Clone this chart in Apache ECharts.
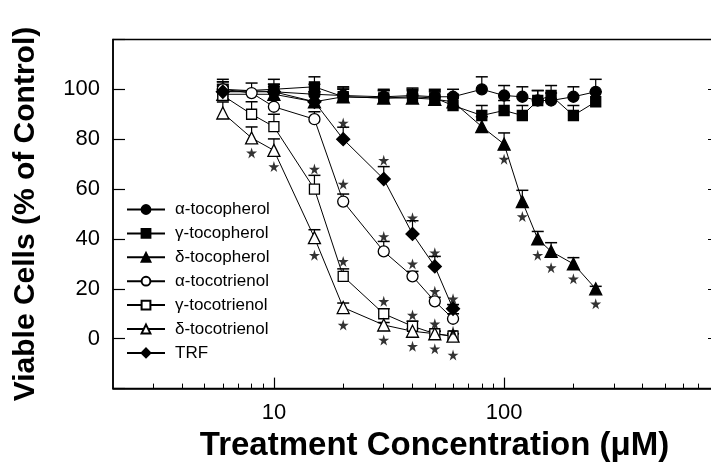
<!DOCTYPE html>
<html>
<head>
<meta charset="utf-8">
<script src="https://cdn.jsdelivr.net/npm/echarts@6/dist/echarts.min.js"></script>
<style>
html, body { margin: 0; padding: 0; background: #fff; }
#chart { width: 711px; height: 467px; }
</style>
</head>
<body>
<div id="chart"></div>
<script>
// concentrations (uM)
var tocoConc = [6, 10, 15, 20, 30, 40, 50, 60, 80, 100, 120, 140, 160, 200, 250];
var t3Conc = [6, 8, 10, 15, 20, 30, 40, 50, 60];
var trfConc = [6, 10, 15, 20, 30, 40, 50, 60];

// viable cells (% of control) and upper error
var alphaToco = [100, 99, 98, 97.5, 97, 97.5, 97, 97, 100, 97.5, 97, 95.5, 95.5, 97, 99];
var alphaTocoErr = [4, 3, 4, 3, 3, 3, 3, 3, 5, 4, 4, 4, 3, 4, 5];
var gammaToco = [99, 100, 101, 97, 96.5, 97, 96.5, 93.5, 89.5, 91.5, 89.5, 95.5, 97.5, 89.5, 95];
var gammaTocoErr = [4, 4, 4, 4, 3, 3, 3, 3, 4, 4, 4, 4, 4, 4, 4];
var deltaToco = [98, 98, 95, 97, 96.5, 96.5, 96, 95, 85, 78, 55, 40, 35, 30, 20];
var deltaTocoErr = [3, 3, 4, 3, 3, 3, 3, 3, 4, 4.5, 4.5, 3, 3.5, 2.5, 1];
var alphaT3 = [100, 98.5, 93, 88, 55, 35, 25, 15, 8];
var alphaT3Err = [3, 4, 3, 3, 3, 4, 2, 1.6, 2];
var gammaT3 = [97.5, 90, 85, 60, 25, 10, 5, 2, 1];
var gammaT3Err = [4, 5, 5, 5.5, 3, 2, 2, 1, 1];
var deltaT3 = [90.5, 80.5, 75.5, 40.5, 12.5, 5.5, 3, 2, 1];
var deltaT3Err = [4.4, 4.4, 4.6, 3.2, 1.8, 1, 1, 1, 1];
var trf = [99, 99, 95, 80, 64, 42, 29, 12];
var trfErr = [3, 3, 4, 4.8, 5, 5.3, 4, 1.7];

// significance stars [conc, position]
var stars = [
  [8, 74.5], [10, 69], [15, 33.5], [20, 5.5], [30, -0.5], [40, -3], [50, -4], [60, -6.5],
  [15, 68], [20, 31], [30, 15], [40, 9.5], [50, 6], [60, 3],
  [20, 62], [30, 41], [40, 30], [50, 19], [60, 13],
  [20, 86.5], [30, 71.5], [40, 48.5], [50, 34.5], [60, 16],
  [100, 72], [120, 49], [140, 33.5], [160, 28.5], [200, 24], [250, 14]
];

var majorTicks = [10, 100];
var minorTicks = [3, 4, 5, 6, 7, 8, 9, 20, 30, 40, 50, 60, 70, 80, 90, 200, 300, 400, 500, 600, 700, 800];

var font = "'Liberation Sans', Arial, sans-serif";
var starPath = 'path://M50,0 L61,35 L98,35 L68,57 L79,91 L50,70 L21,91 L32,57 L2,35 L39,35 Z';

function pairs(xs, ys) {
  return xs.map(function (x, i) { return [x, ys[i]]; });
}
function triples(xs, ys, es) {
  return xs.map(function (x, i) { return [x, ys[i], es[i]]; });
}

function lineSeries(name, xs, ys, symbol, size, filled) {
  return {
    name: name,
    type: 'line',
    data: pairs(xs, ys),
    symbol: symbol,
    symbolSize: size,
    showAllSymbol: true,
    z: 3,
    lineStyle: { color: '#000', width: 1 },
    itemStyle: {
      color: filled ? '#000' : '#fff',
      borderColor: '#000',
      borderWidth: 1.3
    }
  };
}

function errRender(params, api) {
  var x = api.value(0), y = api.value(1), e = api.value(2);
  var p0 = api.coord([x, y]);
  var p1 = api.coord([x, y + e]);
  return {
    type: 'group',
    children: [
      { type: 'line', shape: { x1: p0[0], y1: p0[1], x2: p1[0], y2: p1[1] }, style: { stroke: '#000', lineWidth: 1.2 } },
      { type: 'line', shape: { x1: p1[0] - 6, y1: p1[1], x2: p1[0] + 6, y2: p1[1] }, style: { stroke: '#000', lineWidth: 1.5 } }
    ]
  };
}

function errSeries(xs, ys, es) {
  return { type: 'custom', renderItem: errRender, data: triples(xs, ys, es), z: 1, silent: true };
}

var names = ['α-tocopherol', 'γ-tocopherol', 'δ-tocopherol', 'α-tocotrienol', 'γ-tocotrienol', 'δ-tocotrienol', 'TRF'];

var myChart = echarts.init(document.getElementById('chart'));
var option = {
  animation: false,
  backgroundColor: '#fff',
  textStyle: { fontFamily: font },
  grid: {
    left: 113, top: 39.4, right: -1, bottom: 78.4,
    show: true, borderColor: '#000', borderWidth: 1.5,
    outerBoundsMode: 'none'
  },
  legend: {
    data: names,
    orient: 'vertical',
    left: 126, top: 201,
    padding: 0,
    itemWidth: 38, itemHeight: 11, itemGap: 6.9,
    textStyle: { fontSize: 17, color: '#000', fontFamily: font, padding: [0, 0, 0, 5] }
  },
  xAxis: [{
    type: 'log', logBase: 10, min: 2, max: 800, position: 'bottom',
    axisLine: { onZero: false, lineStyle: { color: '#000', width: 1.5 } },
    axisTick: { inside: true, length: 11, customValues: majorTicks, lineStyle: { color: '#000', width: 1.2 } },
    axisLabel: { customValues: majorTicks, formatter: function (v) { return String(Math.round(v)); }, color: '#000', fontSize: 22, margin: 13, fontFamily: font },
    splitLine: { show: false },
    name: 'Treatment Concentration (μM)', nameLocation: 'middle', nameGap: 41, nameMoveOverlap: false,
    nameTextStyle: { fontSize: 33, fontWeight: 'bold', color: '#000', fontFamily: font, padding: [0, 0, 0, 44] }
  }, {
    type: 'log', logBase: 10, min: 2, max: 800, position: 'bottom',
    axisLine: { show: false, onZero: false },
    axisTick: { inside: true, length: 5, customValues: minorTicks, lineStyle: { color: '#000', width: 1 } },
    axisLabel: { show: false },
    splitLine: { show: false }
  }],
  yAxis: [{
    type: 'value', min: -20, max: 120, interval: 20, position: 'left',
    axisLine: { show: true, onZero: false, lineStyle: { color: '#000', width: 1.5 } },
    axisTick: { inside: true, length: 12, lineStyle: { color: '#000', width: 1.2 } },
    axisLabel: { formatter: function (v) { return (v < 0 || v > 100) ? '' : v; }, color: '#000', fontSize: 22, margin: 13, fontFamily: font },
    splitLine: { show: false },
    name: 'Viable Cells (% of Control)', nameLocation: 'middle', nameRotate: 90, nameGap: 72, nameMoveOverlap: false,
    nameTextStyle: { fontSize: 30, fontWeight: 'bold', color: '#000', fontFamily: font }
  }, {
    type: 'value', min: -20, max: 120, interval: 20, position: 'right',
    axisLine: { show: true, onZero: false, lineStyle: { color: '#000', width: 1.5 } },
    axisTick: { inside: true, length: 4, lineStyle: { color: '#000' } },
    axisLabel: { show: false },
    splitLine: { show: false }
  }],
  series: [
    errSeries(tocoConc, alphaToco, alphaTocoErr),
    errSeries(tocoConc, gammaToco, gammaTocoErr),
    errSeries(tocoConc, deltaToco, deltaTocoErr),
    errSeries(t3Conc, alphaT3, alphaT3Err),
    errSeries(t3Conc, gammaT3, gammaT3Err),
    errSeries(t3Conc, deltaT3, deltaT3Err),
    errSeries(trfConc, trf, trfErr),
    lineSeries(names[0], tocoConc, alphaToco, 'circle', 11, true),
    lineSeries(names[1], tocoConc, gammaToco, 'rect', 10, true),
    lineSeries(names[2], tocoConc, deltaToco, 'triangle', 12, true),
    lineSeries(names[3], t3Conc, alphaT3, 'circle', 11, false),
    lineSeries(names[4], t3Conc, gammaT3, 'rect', 10, false),
    lineSeries(names[5], t3Conc, deltaT3, 'triangle', 12, false),
    lineSeries(names[6], trfConc, trf, 'diamond', 13, true),
    {
      type: 'scatter', data: stars, symbol: starPath, symbolSize: 11, z: 4, silent: true,
      itemStyle: { color: '#000' }
    }
  ]
};
myChart.setOption(option);
</script>
</body>
</html>
